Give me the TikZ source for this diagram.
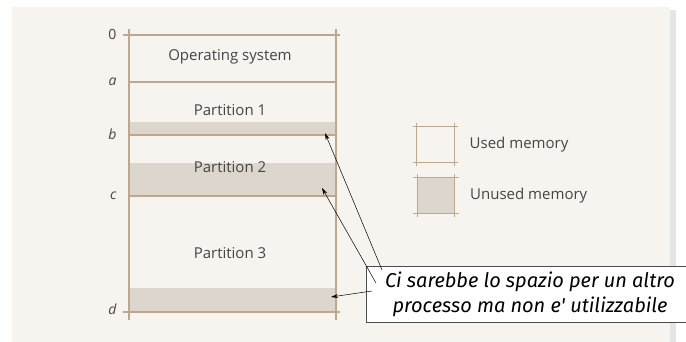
\documentclass[tikz,border=0pt]{standalone}
\usepackage{fontspec}
\setmainfont{Open Sans}
\newfontfamily\notefont{Fira Sans}
\usetikzlibrary{positioning,arrows.meta}
\definecolor{paper}{HTML}{F7F3EE}
\definecolor{edge}{HTML}{BCA78F}
\definecolor{unused}{HTML}{DDD6CC}
\definecolor{ink}{HTML}{454545}

\begin{document}
\begin{tikzpicture}[x=1pt,y=-1pt,
    memline/.style={edge, line width=1.3pt},
    sketch/.style={shorten <=-4pt, shorten >=-4pt},
    addr/.style={ink, anchor=east, font=\fontsize{14}{16}\selectfont\itshape},
    part/.style={ink, font=\fontsize{15}{17}\selectfont},
    legbox/.style={minimum width=37pt, minimum height=35pt, inner sep=0pt},
    note/.style={-{Stealth[length=7pt,width=4pt]}, black, line width=0.5pt}]
  \useasboundingbox (0,0) rectangle (686,342);
  \clip (0,0) rectangle (686,342);
  \fill[white] (0,0) rectangle (686,342);
  \fill[black!10] (670,10) rectangle (676,342);
  \fill[paper] (12,7) rectangle (670,342);

  \fill[unused] (129,122) rectangle (336,135);
  \fill[unused] (129,163) rectangle (336,196);
  \fill[unused] (129,288) rectangle (336,312);

  \draw[memline] (129,29) -- (129,320);
  \draw[memline] (336,29) -- (336,320);
  \draw[memline] (123,35) -- (340,35);
  \draw[memline] (129,82) -- (336,82);
  \draw[memline] (129,135) -- (336,135);
  \draw[memline] (129,196) -- (336,196);
  \draw[memline] (123,312) -- (340,312);

  \node[addr] (l0) at (120,34) {\upshape 0};
  \node[addr] (la) at (120,82) {a};
  \node[addr] (lb) at (120,134) {b};
  \node[addr] (lc) at (120,196) {c};
  \node[addr] (ld) at (120,309) {d};

  \node[part] (os) at (230,57) {Operating system};
  \node[part] (p1) at (230,110) {Partition 1};
  \node[part] (p2) at (230,167) {Partition 2};
  \node[part] (p3) at (230,253) {Partition 3};

  \node[legbox] (used) at (435.5,144.5) {};
  \node[legbox, fill=unused] (free) at (436,195.5) {};
  \foreach \b in {used,free} {
    \draw[memline, sketch] (\b.north west) -- (\b.north east);
    \draw[memline, sketch] (\b.south west) -- (\b.south east);
    \draw[memline, sketch] (\b.north west) -- (\b.south west);
    \draw[memline, sketch] (\b.north east) -- (\b.south east);
  }
  \node[part, anchor=west, right=12pt of used] (usedtxt) {Used memory};
  \node[part, anchor=west, right=12pt of free] (freetxt) {Unused memory};

  \node[draw=black!70, fill=white, line width=0.6pt, minimum width=328pt, minimum height=56pt,
        align=center, inner sep=0pt, font=\notefont\itshape\fontsize{20}{25}\selectfont]
        (msg) at (530,294) {Ci sarebbe lo spazio per un altro\\processo ma non e' utilizzabile};

  \coordinate (s1) at (382,270);
  \coordinate (s2) at (376,283);
  \coordinate (s3) at (372,291);
  \coordinate (e1) at (325,133);
  \coordinate (e2) at (322,188);
  \coordinate (e3) at (331,297);
  \draw[note] (s1) -- (e1);
  \draw[note] (s2) -- (e2);
  \draw[note] (s3) -- (e3);
\end{tikzpicture}
\end{document}
